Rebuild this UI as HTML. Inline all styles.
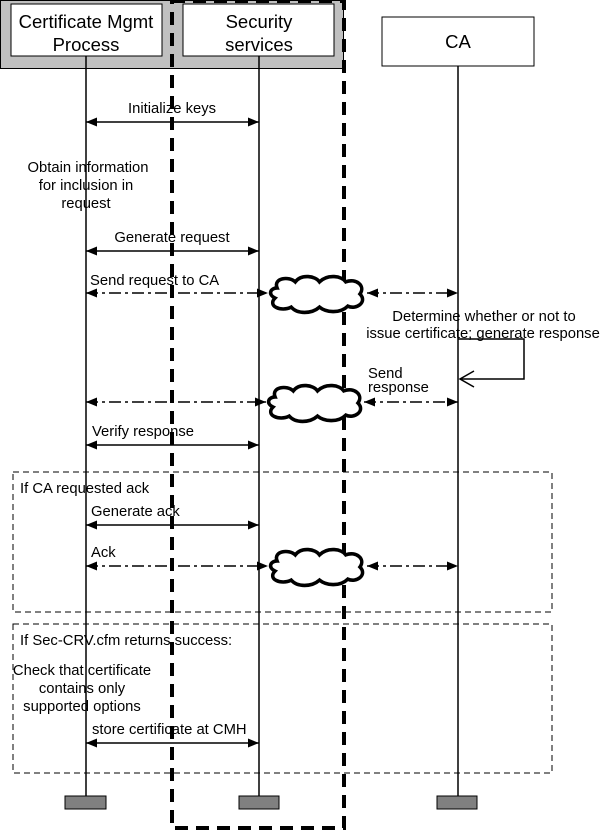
<!DOCTYPE html>
<html><head><style>html,body{margin:0;padding:0;background:#fff}</style></head><body>
<svg width="603" height="831" viewBox="0 0 603 831" xmlns="http://www.w3.org/2000/svg" font-family="Liberation Sans, sans-serif" font-size="14.8">
<defs>
<marker id="a" markerWidth="11" markerHeight="9" refX="11" refY="4.5" orient="auto-start-reverse" markerUnits="userSpaceOnUse"><path d="M0,0 L11,4.5 L0,9 Z" fill="#000"/></marker>
<symbol id="cloud" viewBox="0 0 100 40" overflow="visible">
<path d="M10,14 C6,4 22,2 28,8 C34,0 48,2 52,8 C60,0 74,2 78,8 C88,4 98,12 92,20 C100,28 88,36 80,32 C72,40 58,38 52,33 C44,40 30,40 24,33 C14,38 0,32 8,24 C0,20 4,14 10,14 Z" fill="#fff" stroke="#000" stroke-width="3.5"/>
</symbol>
</defs>
<rect x="0.5" y="0.5" width="343" height="68" fill="#c0c0c0" stroke="#000"/>
<rect x="11" y="4" width="151" height="52" fill="#fff" stroke="#000"/>
<rect x="183" y="4" width="151" height="52" fill="#fff" stroke="#000"/>
<rect x="382" y="17" width="152" height="49" fill="#fff" stroke="#000"/>
<g font-size="18.5" text-anchor="middle">
<text x="86" y="28">Certificate Mgmt</text><text x="86" y="51">Process</text>
<text x="259" y="28">Security</text><text x="259" y="51">services</text>
<text x="458" y="48">CA</text>
</g>
<rect x="172" y="1" width="172" height="827" fill="none" stroke="#000" stroke-width="4" stroke-dasharray="13,8"/>
<g stroke="#000" fill="none" stroke-dasharray="6,4">
<rect x="13" y="472" width="539" height="140"/>
<rect x="13" y="624" width="539" height="149"/>
</g>
<g stroke="#000" stroke-width="1.5">
<line x1="86" y1="56" x2="86" y2="796"/>
<line x1="259" y1="56" x2="259" y2="796"/>
<line x1="458" y1="66" x2="458" y2="796"/>
</g>
<g fill="#808080" stroke="#000">
<rect x="65" y="796" width="41" height="13"/><rect x="239" y="796" width="40" height="13"/><rect x="437" y="796" width="40" height="13"/>
</g>
<g stroke="#000" stroke-width="1.5" marker-start="url(#a)" marker-end="url(#a)">
<line x1="86" y1="122" x2="259" y2="122"/>
<line x1="86" y1="251" x2="259" y2="251"/>
<line x1="86" y1="445" x2="259" y2="445"/>
<line x1="86" y1="525" x2="259" y2="525"/>
<line x1="86" y1="743" x2="259" y2="743"/>
</g>
<g stroke="#000" stroke-width="1.5" stroke-dasharray="12,4,3,4" marker-start="url(#a)" marker-end="url(#a)">
<line x1="86" y1="293" x2="268" y2="293"/>
<line x1="367" y1="293" x2="458" y2="293"/>
<line x1="86" y1="402" x2="266" y2="402"/>
<line x1="364" y1="402" x2="458" y2="402"/>
<line x1="86" y1="566" x2="268" y2="566"/>
<line x1="367" y1="566" x2="458" y2="566"/>
</g>
<use href="#cloud" x="267" y="273" width="101" height="42"/>
<use href="#cloud" x="265" y="382" width="101" height="42"/>
<use href="#cloud" x="267" y="546" width="101" height="42"/>
<path d="M458,339 L524,339 L524,379 L460,379" fill="none" stroke="#000" stroke-width="1.5"/>
<path d="M474,371 L460,379 L474,387" fill="none" stroke="#000" stroke-width="1.5"/>
<g>
<text x="172" y="113" text-anchor="middle">Initialize keys</text>
<text x="88" y="172" text-anchor="middle">Obtain information</text>
<text x="86" y="190" text-anchor="middle">for inclusion in</text>
<text x="86" y="208" text-anchor="middle">request</text>
<text x="172" y="242" text-anchor="middle">Generate request</text>
<text x="90" y="285">Send request to CA</text>
<text x="484" y="321" text-anchor="middle">Determine whether or not to</text>
<text x="483" y="338" text-anchor="middle">issue certificate; generate response</text>
<text x="368" y="378">Send</text>
<text x="368" y="392">response</text>
<text x="92" y="436">Verify response</text>
<text x="20" y="493">If CA requested ack</text>
<text x="91" y="516">Generate ack</text>
<text x="91" y="557">Ack</text>
<text x="20" y="645">If Sec-CRV.cfm returns success:</text>
<text x="82" y="675" text-anchor="middle">Check that certificate</text>
<text x="82" y="693" text-anchor="middle">contains only</text>
<text x="82" y="711" text-anchor="middle">supported options</text>
<text x="92" y="734">store certificate at CMH</text>
</g>
</svg>
</body></html>
